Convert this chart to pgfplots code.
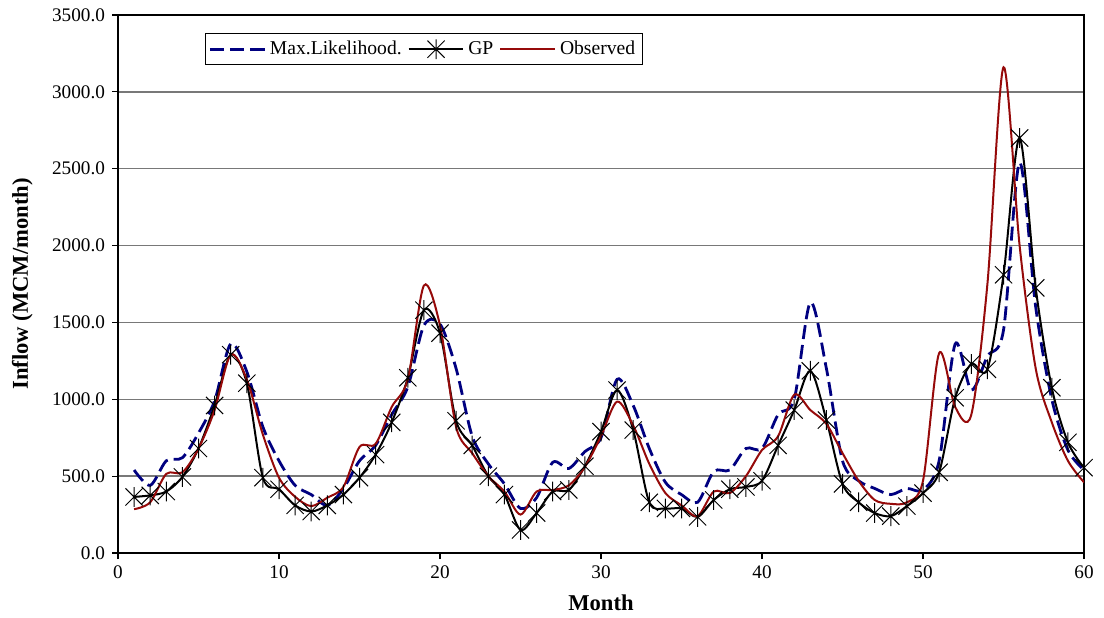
\documentclass[border=0pt]{standalone}
\usepackage{fontspec}
\setmainfont{Liberation Serif}
\usepackage{pgfplots}
\usepackage{pgfplotstable}
\pgfplotsset{compat=1.18}
\definecolor{mlblue}{RGB}{0,0,128}
\definecolor{obsred}{RGB}{150,10,10}
\definecolor{gridgray}{RGB}{120,120,120}
\pgfdeclareplotmark{xstar}{%
  \pgfpathmoveto{\pgfqpoint{-\pgfplotmarksize}{-\pgfplotmarksize}}%
  \pgfpathlineto{\pgfqpoint{\pgfplotmarksize}{\pgfplotmarksize}}%
  \pgfpathmoveto{\pgfqpoint{-\pgfplotmarksize}{\pgfplotmarksize}}%
  \pgfpathlineto{\pgfqpoint{\pgfplotmarksize}{-\pgfplotmarksize}}%
  \pgfpathmoveto{\pgfqpoint{0pt}{-1.15\pgfplotmarksize}}%
  \pgfpathlineto{\pgfqpoint{0pt}{1.15\pgfplotmarksize}}%
  \pgfusepathqstroke}
\pgfplotstableread{
x ML GP Obs
1 540 365 285
2 440 375 330
3 600 400 515
4 620 495 525
5 780 680 680
6 990 960 930
7 1360 1290 1290
8 1180 1105 1130
9 820 490 770
10 600 415 490
11 440 310 366
12 380 270 305
13 310 310 360
14 420 380 430
15 600 490 690
16 700 640 710
17 900 850 950
18 1080 1140 1130
19 1480 1580 1740
20 1490 1430 1480
21 1200 860 820
22 760 700 650
23 580 500 500
24 450 380 400
25 290 150 250
26 360 260 400
27 590 400 410
28 550 410 440
29 660 565 560
30 750 790 760
31 1130 1060 985
32 960 800 830
33 680 330 580
34 460 290 390
35 380 290 310
36 330 235 240
37 530 345 400
38 540 415 390
39 680 430 500
40 680 470 670
41 900 700 760
42 1000 930 1030
43 1630 1185 930
44 1200 865 840
45 600 450 650
46 470 330 470
47 420 260 345
48 380 240 320
49 420 305 330
50 410 390 470
51 600 525 1300
52 1360 1010 950
53 1060 1230 900
54 1280 1195 1750
55 1450 1810 3160
56 2540 2700 2000
57 1600 1725 1200
58 1000 1075 850
59 670 720 600
60 540 555 460
}\datatable
\begin{document}
\begin{tikzpicture}
\begin{axis}[
  name=ax,
  scale only axis,
  width=483pt, height=269pt,
  xmin=0, xmax=60, ymin=0, ymax=3500,
  xtick={0,10,...,60},
  ytick={0,500,...,3500},
  tick align=outside,
  tick pos=left,
  major tick length=3pt,
  tick style={black, line width=0.6pt},
  axis line style={black, line width=0.8pt},
  ymajorgrids,
  grid style={gridgray, line width=0.7pt},
  yticklabel style={/pgf/number format/.cd, fixed, fixed zerofill, precision=1, 1000 sep={}, assume math mode=true},
  xticklabel style={/pgf/number format/assume math mode=true},
  ticklabel style={font=\fontsize{9.6}{11}\selectfont},
  xlabel={\textbf{Month}},
  ylabel={\textbf{Inflow (MCM/month)}},
  label style={font=\fontsize{11.3}{13}\selectfont},
  xlabel style={at={(axis description cs:0.5,-0.093)}, anchor=center},
  ylabel style={at={(axis description cs:-0.099,0.5)}, anchor=center},
  legend columns=3,
  legend style={at={(axis description cs:0.09,0.966)}, anchor=north west, draw=black, line width=0.6pt,
    font=\fontsize{9.8}{11}\selectfont, inner sep=1.5pt,
    /tikz/every even column/.append style={column sep=1pt}},
  legend image code/.code={\draw[mark repeat=2,mark phase=2,#1] plot coordinates {(0cm,0cm) (0.48cm,0cm) (0.96cm,0cm)};},
  every axis plot/.append style={smooth, tension=0.5},
]
\addplot[mlblue, line width=1.4pt, dash pattern=on 7pt off 3pt, no markers] table[x=x, y=ML] {\datatable};
\addlegendentry{Max.Likelihood.}
\addplot[black, line width=1pt, mark=xstar, mark size=4.3pt, mark options={solid, line width=0.5pt}] table[x=x, y=GP] {\datatable};
\addlegendentry{GP}
\addplot[obsred, line width=1pt, no markers] table[x=x, y=Obs] {\datatable};
\addlegendentry{Observed}
\end{axis}
\pgfresetboundingbox
\path ([shift={(-59pt,-32pt)}]ax.south west) rectangle ([shift={(10pt,7.5pt)}]ax.north east);
\end{tikzpicture}
\end{document}
